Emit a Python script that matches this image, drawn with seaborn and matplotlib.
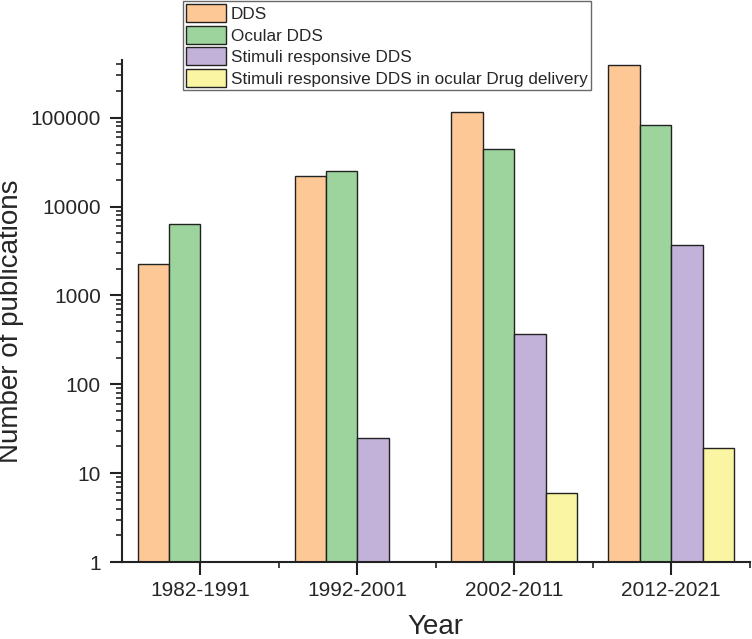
import pandas as pd
import numpy as np
import matplotlib.pyplot as plt
import seaborn as sns

# data (NaN = no bar)
periods = ["1982-1991", "1992-2001", "2002-2011", "2012-2021"]
series = [
    "DDS",
    "Ocular DDS",
    "Stimuli responsive DDS",
    "Stimuli responsive DDS in ocular Drug delivery",
]
dds = [2250, 22000, 115000, 390000]
ocular_dds = [6300, 25500, 45000, 82000]
stimuli_dds = [np.nan, 25, 370, 3700]
stimuli_ocular = [np.nan, np.nan, 6, 19]
colors = ["#FEC796", "#9DD49D", "#C2B1D8", "#F9F5A2"]

rows = []
for name, vals in zip(series, [dds, ocular_dds, stimuli_dds, stimuli_ocular]):
    for p, v in zip(periods, vals):
        rows.append({"Year": p, "Series": name, "Count": v})
df = pd.DataFrame(rows)

sns.set_style("ticks")
plt.rcParams["font.family"] = ["Liberation Sans", "DejaVu Sans"]

fig = plt.figure(figsize=(7.52, 6.39), dpi=100)
ax = fig.add_axes([0.162, 0.1205, 0.835, 0.786])
ax.set_yscale("log")

sns.barplot(
    data=df, x="Year", y="Count", hue="Series",
    order=periods, hue_order=series, palette=colors,
    width=0.8, saturation=1, edgecolor="#222222", linewidth=1,
    ax=ax,
)

ax.set_ylim(1, 4.5e5)
ax.set_xlim(-0.5, 3.5)
ax.set_yticks([1, 10, 100, 1000, 10000, 100000])
ax.set_yticklabels(["1", "10", "100", "1000", "10000", "100000"])
ax.set_xticks([0.5, 1.5, 2.5, 3.5], minor=True)

for s in ["top", "right"]:
    ax.spines[s].set_visible(False)
for s in ["left", "bottom"]:
    ax.spines[s].set_linewidth(1.5)
    ax.spines[s].set_color("#222222")

ax.tick_params(axis="both", which="major", length=9, width=1.5,
               labelsize=15, color="#222222", pad=6)
ax.tick_params(axis="x", which="major", pad=5)
ax.tick_params(axis="both", which="minor", length=4.5, width=1.2,
               color="#222222")
ax.tick_params(axis="y", which="minor", labelleft=False)

ax.set_xlabel("Year", fontsize=20)
ax.set_ylabel("Number of publications", fontsize=20)
ax.xaxis.set_label_coords(0.5, -0.104)
ax.yaxis.set_label_coords(-0.155, 0.48)

handles, labels = ax.get_legend_handles_labels()
ax.legend_.remove()
leg = fig.legend(
    handles, labels, loc="upper left",
    bbox_to_anchor=(183 / 752, 1 - 1 / 639),
    fontsize=12.3, frameon=True, fancybox=False,
    handlelength=2.3, handleheight=1.25, handletextpad=0.3,
    labelspacing=0.2, borderpad=0.2, borderaxespad=0,
)
leg.get_frame().set_edgecolor("#444444")
leg.get_frame().set_linewidth(1)

fig.savefig("out.png", dpi=100)
